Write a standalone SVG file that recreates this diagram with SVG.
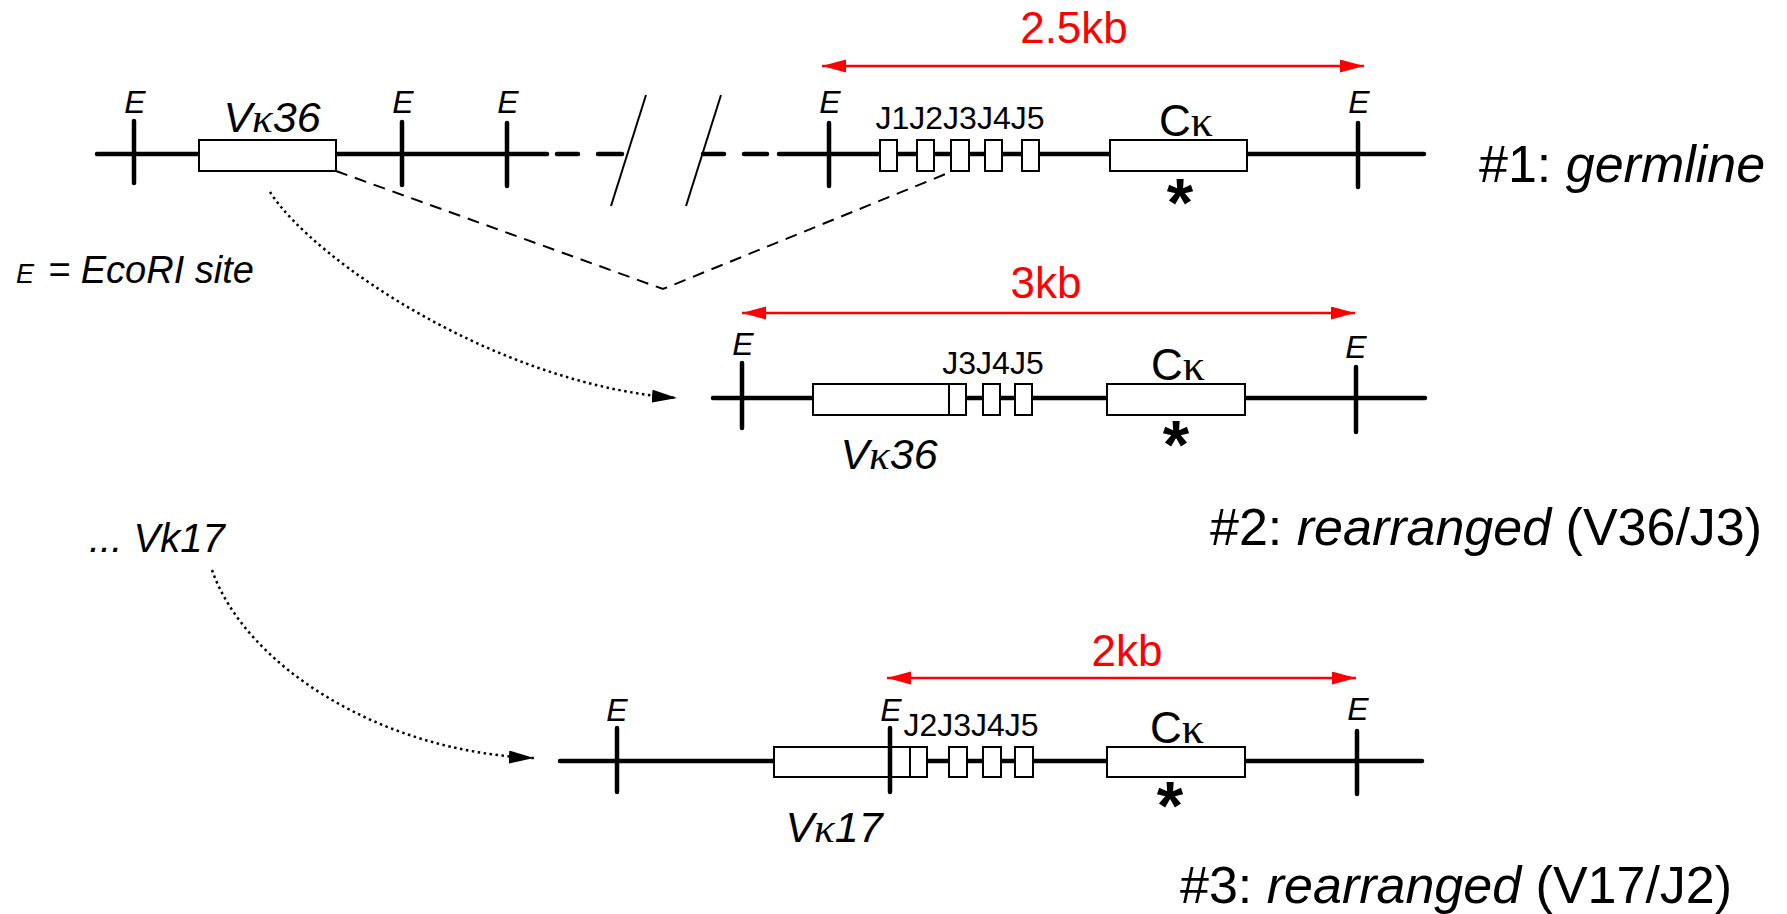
<svg xmlns="http://www.w3.org/2000/svg" width="1787" height="914" viewBox="0 0 1787 914">
<defs>
<style>
.dna{stroke:#000;stroke-width:4.5;stroke-linecap:round;fill:none}
.tick{stroke:#000;stroke-width:4.5;stroke-linecap:round}
.box{fill:#fff;stroke:#000;stroke-width:2}
.thin{stroke:#000;stroke-width:2;fill:none}
.dash{stroke:#000;stroke-width:2;fill:none;stroke-dasharray:12,8}
.dot{stroke:#000;stroke-width:2.5;fill:none;stroke-dasharray:2.5,3.5}
.red{stroke:#ff0000;stroke-width:2.5;fill:none}
.e{font-family:"Liberation Sans",Arial,sans-serif;font-style:italic;font-size:32px;text-anchor:middle}
.j{font-family:"Liberation Sans",Arial,sans-serif;font-size:32px;text-anchor:middle}
.ck{font-family:"Liberation Sans",Arial,sans-serif;font-size:44px;text-anchor:middle}
.v{font-family:"Liberation Sans",Arial,sans-serif;font-style:italic;font-size:43px;text-anchor:middle}
.kap{font-family:"Liberation Serif","Times New Roman",serif}
.star{font-family:"Liberation Sans",Arial,sans-serif;font-weight:bold;font-size:68px;text-anchor:middle}
.kb{font-family:"Liberation Sans",Arial,sans-serif;font-size:44px;fill:#ff0000;text-anchor:middle}
.lab{font-family:"Liberation Sans",Arial,sans-serif;font-size:52px}
.it{font-style:italic}
</style>
<marker id="ah" markerUnits="userSpaceOnUse" markerWidth="26" markerHeight="14" refX="25" refY="6.5" orient="auto" viewBox="0 0 26 14">
<path d="M0,0 L25,6.5 L0,13 z" fill="#000"/>
</marker>
<marker id="rh" markerUnits="userSpaceOnUse" markerWidth="25" markerHeight="14" refX="24" refY="6.5" orient="auto-start-reverse" viewBox="0 0 25 14">
<path d="M0,0 L24,6.5 L0,13 z" fill="#ff0000"/>
</marker>
</defs>
<rect width="1787" height="914" fill="#fff"/>

<g id="connectors">
<polyline class="dash" points="336,171 663,289 953,171"/>
<path class="dot" d="M270,192 C315,262 500,385 677,398" marker-end="url(#ah)"/>
<path class="dot" d="M212,570 C245,665 380,752 534,758" marker-end="url(#ah)"/>
<line class="red" x1="822" y1="66" x2="1364" y2="66" marker-start="url(#rh)" marker-end="url(#rh)"/>
<line class="red" x1="742" y1="313" x2="1355" y2="313" marker-start="url(#rh)" marker-end="url(#rh)"/>
<line class="red" x1="887" y1="678" x2="1356" y2="678" marker-start="url(#rh)" marker-end="url(#rh)"/>
</g>

<g id="row1-germline">
<line class="dna" x1="97" y1="154" x2="547" y2="154"/>
<line class="dna" x1="557" y1="154" x2="578" y2="154"/>
<line class="dna" x1="598" y1="154" x2="622" y2="154"/>
<line class="dna" x1="703" y1="154" x2="724" y2="154"/>
<line class="dna" x1="744" y1="154" x2="767" y2="154"/>
<line class="dna" x1="779" y1="154" x2="1424" y2="154"/>
<line class="thin" x1="646" y1="95" x2="611" y2="206"/>
<line class="thin" x1="721" y1="95" x2="686" y2="206"/>
<line class="tick" x1="134" y1="121" x2="134" y2="183"/>
<line class="tick" x1="402" y1="122" x2="402" y2="185"/>
<line class="tick" x1="507" y1="123" x2="507" y2="186"/>
<line class="tick" x1="829" y1="123" x2="829" y2="186"/>
<line class="tick" x1="1358" y1="123" x2="1358" y2="187"/>
<rect class="box" x="199" y="140" width="137" height="31"/>
<rect class="box" x="880" y="140" width="17" height="31"/>
<rect class="box" x="917" y="140" width="17" height="31"/>
<rect class="box" x="951" y="140" width="18" height="31"/>
<rect class="box" x="985" y="140" width="17" height="31"/>
<rect class="box" x="1022" y="140" width="17" height="31"/>
<rect class="box" x="1110" y="140" width="137" height="31"/>
<text class="e" x="135" y="113">E</text>
<text class="e" x="403" y="113">E</text>
<text class="e" x="508" y="113">E</text>
<text class="e" x="830" y="113">E</text>
<text class="e" x="1359" y="113">E</text>
<text class="v" x="272" y="132">V<tspan class="kap">κ</tspan>36</text>
<text class="j" x="960" y="129">J1J2J3J4J5</text>
<text class="ck" x="1186" y="136">C<tspan class="kap">κ</tspan></text>
<text class="star" x="1180" y="226">*</text>
<text class="kb" x="1074" y="43">2.5kb</text>
<text class="lab" x="1479" y="182">#1: <tspan class="it">germline</tspan></text>
</g>

<g id="legend">
<text x="16" y="283" font-family="Liberation Sans, Arial, sans-serif" font-style="italic" font-size="27">E</text>
<text x="48" y="283" font-family="Liberation Sans, Arial, sans-serif" font-style="italic" font-size="38">= EcoRI site</text>
</g>

<g id="row2-rearranged">
<line class="dna" x1="713" y1="398" x2="1425" y2="398"/>
<line class="tick" x1="742" y1="363" x2="742" y2="428"/>
<line class="tick" x1="1356" y1="367" x2="1356" y2="432"/>
<rect class="box" x="813" y="384" width="136" height="31"/>
<rect class="box" x="949" y="384" width="17" height="31"/>
<rect class="box" x="983" y="384" width="17" height="31"/>
<rect class="box" x="1015" y="384" width="17" height="31"/>
<rect class="box" x="1107" y="384" width="138" height="31"/>
<text class="e" x="743" y="355">E</text>
<text class="e" x="1356" y="358">E</text>
<text class="j" x="993" y="374">J3J4J5</text>
<text class="ck" x="1178" y="380">C<tspan class="kap">κ</tspan></text>
<text class="v" x="889" y="469">V<tspan class="kap">κ</tspan>36</text>
<text class="star" x="1176" y="468">*</text>
<text class="kb" x="1046" y="298">3kb</text>
<text class="lab" x="1210" y="545">#2: <tspan class="it">rearranged</tspan> (V36/J3)</text>
</g>

<g id="vk17-source">
<text x="89" y="552" font-family="Liberation Sans, Arial, sans-serif" font-style="italic" font-size="40">... Vk17</text>
</g>

<g id="row3-rearranged">
<line class="dna" x1="560" y1="761" x2="1422" y2="761"/>
<rect class="box" x="774" y="747" width="136" height="30"/>
<rect class="box" x="910" y="747" width="17" height="30"/>
<rect class="box" x="949" y="747" width="18" height="30"/>
<rect class="box" x="983" y="747" width="18" height="30"/>
<rect class="box" x="1015" y="747" width="18" height="30"/>
<rect class="box" x="1107" y="747" width="138" height="30"/>
<line class="tick" x1="617" y1="728" x2="617" y2="792"/>
<line class="tick" x1="890" y1="728" x2="890" y2="792"/>
<line class="tick" x1="1357" y1="731" x2="1357" y2="794"/>
<text class="e" x="617" y="721">E</text>
<text class="e" x="891" y="721">E</text>
<text class="e" x="1358" y="720">E</text>
<text class="j" x="971" y="736">J2J3J4J5</text>
<text class="ck" x="1177" y="743">C<tspan class="kap">κ</tspan></text>
<text class="v" x="834" y="842">V<tspan class="kap">κ</tspan>17</text>
<text class="star" x="1170" y="829">*</text>
<text class="kb" x="1127" y="666">2kb</text>
<text class="lab" x="1180" y="903">#3: <tspan class="it">rearranged</tspan> (V17/J2)</text>
</g>
</svg>
